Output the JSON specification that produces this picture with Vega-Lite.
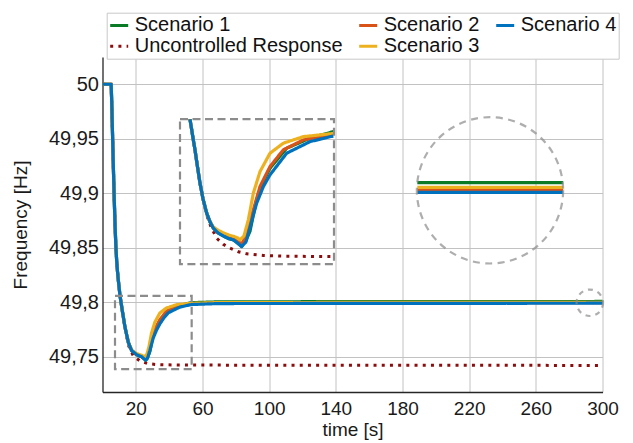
{
  "$schema": "https://vega.github.io/schema/vega-lite/v6.json",
  "width": 500,
  "height": 335,
  "autosize": "none",
  "padding": {"left": 102.5, "top": 57, "right": 30.5, "bottom": 51},
  "background": "white",
  "config": {
    "font": "Liberation Sans",
    "view": {"stroke": null},
    "axis": {
      "domainColor": "#262626", "domainWidth": 1.3,
      "gridColor": "#c2c2c2", "gridWidth": 1,
      "labelFont": "Liberation Sans", "labelFontSize": 19, "labelColor": "#1a1a1a",
      "titleFont": "Liberation Sans", "titleFontSize": 19, "titleFontWeight": "normal", "titleColor": "#1a1a1a",
      "ticks": false, "labelFlush": false, "labelOverlap": false
    },
    "legend": {
      "labelFont": "Liberation Sans", "labelFontSize": 20, "labelColor": "#111111"
    }
  },
  "datasets": {
    "curves": [
      {"s":"Uncontrolled Response","p":"m","t":0,"f":50},
      {"s":"Uncontrolled Response","p":"m","t":5.2,"f":50},
      {"s":"Uncontrolled Response","p":"m","t":5.6,"f":49.98},
      {"s":"Uncontrolled Response","p":"m","t":6,"f":49.955},
      {"s":"Uncontrolled Response","p":"m","t":6.5,"f":49.925},
      {"s":"Uncontrolled Response","p":"m","t":7,"f":49.897},
      {"s":"Uncontrolled Response","p":"m","t":7.5,"f":49.872},
      {"s":"Uncontrolled Response","p":"m","t":8,"f":49.852},
      {"s":"Uncontrolled Response","p":"m","t":8.5,"f":49.838},
      {"s":"Uncontrolled Response","p":"m","t":9,"f":49.828},
      {"s":"Uncontrolled Response","p":"m","t":9.5,"f":49.82},
      {"s":"Uncontrolled Response","p":"m","t":10.5,"f":49.806},
      {"s":"Uncontrolled Response","p":"m","t":12,"f":49.791},
      {"s":"Uncontrolled Response","p":"m","t":13.5,"f":49.777},
      {"s":"Uncontrolled Response","p":"m","t":15.5,"f":49.7605},
      {"s":"Uncontrolled Response","p":"m","t":18.5,"f":49.7506},
      {"s":"Uncontrolled Response","p":"m","t":22.4,"f":49.7461},
      {"s":"Uncontrolled Response","p":"m","t":27.4,"f":49.7435},
      {"s":"Uncontrolled Response","p":"m","t":32.4,"f":49.7427},
      {"s":"Uncontrolled Response","p":"m","t":45,"f":49.7422},
      {"s":"Uncontrolled Response","p":"m","t":300,"f":49.7419},

      {"s":"Uncontrolled Response","p":"i","t":52.5,"f":49.9679},
      {"s":"Uncontrolled Response","p":"i","t":54,"f":49.9535},
      {"s":"Uncontrolled Response","p":"i","t":55.5,"f":49.9397},
      {"s":"Uncontrolled Response","p":"i","t":57,"f":49.9241},
      {"s":"Uncontrolled Response","p":"i","t":58.5,"f":49.9092},
      {"s":"Uncontrolled Response","p":"i","t":60.3,"f":49.8948},
      {"s":"Uncontrolled Response","p":"i","t":62.5,"f":49.88},
      {"s":"Uncontrolled Response","p":"i","t":65,"f":49.8695},
      {"s":"Uncontrolled Response","p":"i","t":68.5,"f":49.8587},
      {"s":"Uncontrolled Response","p":"i","t":72.5,"f":49.853},
      {"s":"Uncontrolled Response","p":"i","t":76.5,"f":49.8495},
      {"s":"Uncontrolled Response","p":"i","t":81.5,"f":49.8462},
      {"s":"Uncontrolled Response","p":"i","t":86.5,"f":49.8443},
      {"s":"Uncontrolled Response","p":"i","t":96.5,"f":49.8428},
      {"s":"Uncontrolled Response","p":"i","t":110,"f":49.8421},
      {"s":"Uncontrolled Response","p":"i","t":138.5,"f":49.8418},

      {"s":"Scenario 1","p":"m","t":0,"f":50},
      {"s":"Scenario 1","p":"m","t":5.2,"f":50},
      {"s":"Scenario 1","p":"m","t":5.6,"f":49.98},
      {"s":"Scenario 1","p":"m","t":6,"f":49.955},
      {"s":"Scenario 1","p":"m","t":6.5,"f":49.925},
      {"s":"Scenario 1","p":"m","t":7,"f":49.897},
      {"s":"Scenario 1","p":"m","t":7.5,"f":49.872},
      {"s":"Scenario 1","p":"m","t":8,"f":49.852},
      {"s":"Scenario 1","p":"m","t":8.5,"f":49.838},
      {"s":"Scenario 1","p":"m","t":9,"f":49.828},
      {"s":"Scenario 1","p":"m","t":9.5,"f":49.82},
      {"s":"Scenario 1","p":"m","t":10.5,"f":49.806},
      {"s":"Scenario 1","p":"m","t":12,"f":49.791},
      {"s":"Scenario 1","p":"m","t":13.5,"f":49.777},
      {"s":"Scenario 1","p":"m","t":15.5,"f":49.763},
      {"s":"Scenario 1","p":"m","t":17.5,"f":49.7555},
      {"s":"Scenario 1","p":"m","t":20.5,"f":49.7517},
      {"s":"Scenario 1","p":"m","t":23.5,"f":49.7498},
      {"s":"Scenario 1","p":"m","t":25.9,"f":49.7467},
      {"s":"Scenario 1","p":"m","t":27,"f":49.749},
      {"s":"Scenario 1","p":"m","t":28.4,"f":49.7545},
      {"s":"Scenario 1","p":"m","t":30.4,"f":49.7699},
      {"s":"Scenario 1","p":"m","t":32.4,"f":49.7775},
      {"s":"Scenario 1","p":"m","t":34.4,"f":49.783},
      {"s":"Scenario 1","p":"m","t":36.9,"f":49.788},
      {"s":"Scenario 1","p":"m","t":39.4,"f":49.7923},
      {"s":"Scenario 1","p":"m","t":46.3,"f":49.797},
      {"s":"Scenario 1","p":"m","t":53.3,"f":49.7995},
      {"s":"Scenario 1","p":"m","t":70,"f":49.8003},
      {"s":"Scenario 1","p":"m","t":300,"f":49.8006},

      {"s":"Scenario 1","p":"i","t":52.5,"f":49.9679},
      {"s":"Scenario 1","p":"i","t":54,"f":49.9535},
      {"s":"Scenario 1","p":"i","t":55.5,"f":49.9397},
      {"s":"Scenario 1","p":"i","t":57,"f":49.9241},
      {"s":"Scenario 1","p":"i","t":58.5,"f":49.9092},
      {"s":"Scenario 1","p":"i","t":60.3,"f":49.8948},
      {"s":"Scenario 1","p":"i","t":62.5,"f":49.8817},
      {"s":"Scenario 1","p":"i","t":64.5,"f":49.8737},
      {"s":"Scenario 1","p":"i","t":66.5,"f":49.8679},
      {"s":"Scenario 1","p":"i","t":69.3,"f":49.8636},
      {"s":"Scenario 1","p":"i","t":72.5,"f":49.8608},
      {"s":"Scenario 1","p":"i","t":75.3,"f":49.8585},
      {"s":"Scenario 1","p":"i","t":78.5,"f":49.8572},
      {"s":"Scenario 1","p":"i","t":81.3,"f":49.8539},
      {"s":"Scenario 1","p":"i","t":83.5,"f":49.851},
      {"s":"Scenario 1","p":"i","t":86.1,"f":49.857},
      {"s":"Scenario 1","p":"i","t":88.5,"f":49.865},
      {"s":"Scenario 1","p":"i","t":90.5,"f":49.88},
      {"s":"Scenario 1","p":"i","t":92.5,"f":49.894},
      {"s":"Scenario 1","p":"i","t":96.5,"f":49.911},
      {"s":"Scenario 1","p":"i","t":100.5,"f":49.9229},
      {"s":"Scenario 1","p":"i","t":110.5,"f":49.9413},
      {"s":"Scenario 1","p":"i","t":124.5,"f":49.9505},
      {"s":"Scenario 1","p":"i","t":138.5,"f":49.9565},
      {"s":"Scenario 1","p":"c","t":188.9,"f":49.9097},
      {"s":"Scenario 1","p":"c","t":276.4,"f":49.9097},

      {"s":"Scenario 2","p":"m","t":0,"f":50},
      {"s":"Scenario 2","p":"m","t":5.2,"f":50},
      {"s":"Scenario 2","p":"m","t":5.6,"f":49.98},
      {"s":"Scenario 2","p":"m","t":6,"f":49.955},
      {"s":"Scenario 2","p":"m","t":6.5,"f":49.925},
      {"s":"Scenario 2","p":"m","t":7,"f":49.897},
      {"s":"Scenario 2","p":"m","t":7.5,"f":49.872},
      {"s":"Scenario 2","p":"m","t":8,"f":49.852},
      {"s":"Scenario 2","p":"m","t":8.5,"f":49.838},
      {"s":"Scenario 2","p":"m","t":9,"f":49.828},
      {"s":"Scenario 2","p":"m","t":9.5,"f":49.82},
      {"s":"Scenario 2","p":"m","t":10.5,"f":49.806},
      {"s":"Scenario 2","p":"m","t":12,"f":49.791},
      {"s":"Scenario 2","p":"m","t":13.5,"f":49.777},
      {"s":"Scenario 2","p":"m","t":15.5,"f":49.763},
      {"s":"Scenario 2","p":"m","t":17.5,"f":49.7555},
      {"s":"Scenario 2","p":"m","t":20.5,"f":49.7519},
      {"s":"Scenario 2","p":"m","t":23.5,"f":49.7502},
      {"s":"Scenario 2","p":"m","t":25.9,"f":49.7478},
      {"s":"Scenario 2","p":"m","t":27.5,"f":49.752},
      {"s":"Scenario 2","p":"m","t":29.4,"f":49.7638},
      {"s":"Scenario 2","p":"m","t":31.4,"f":49.7745},
      {"s":"Scenario 2","p":"m","t":34.4,"f":49.7838},
      {"s":"Scenario 2","p":"m","t":38.3,"f":49.7916},
      {"s":"Scenario 2","p":"m","t":44.3,"f":49.7961},
      {"s":"Scenario 2","p":"m","t":53.3,"f":49.7984},
      {"s":"Scenario 2","p":"m","t":70,"f":49.7992},
      {"s":"Scenario 2","p":"m","t":300,"f":49.7995},

      {"s":"Scenario 2","p":"i","t":52.5,"f":49.9679},
      {"s":"Scenario 2","p":"i","t":54,"f":49.9535},
      {"s":"Scenario 2","p":"i","t":55.5,"f":49.9397},
      {"s":"Scenario 2","p":"i","t":57,"f":49.9241},
      {"s":"Scenario 2","p":"i","t":58.5,"f":49.9092},
      {"s":"Scenario 2","p":"i","t":60.3,"f":49.8948},
      {"s":"Scenario 2","p":"i","t":62.5,"f":49.8817},
      {"s":"Scenario 2","p":"i","t":64.5,"f":49.8737},
      {"s":"Scenario 2","p":"i","t":66.5,"f":49.8682},
      {"s":"Scenario 2","p":"i","t":69.3,"f":49.864},
      {"s":"Scenario 2","p":"i","t":72.5,"f":49.8615},
      {"s":"Scenario 2","p":"i","t":75.3,"f":49.8595},
      {"s":"Scenario 2","p":"i","t":78.5,"f":49.858},
      {"s":"Scenario 2","p":"i","t":81.3,"f":49.8555},
      {"s":"Scenario 2","p":"i","t":83.7,"f":49.8535},
      {"s":"Scenario 2","p":"i","t":86.2,"f":49.862},
      {"s":"Scenario 2","p":"i","t":88.5,"f":49.8735},
      {"s":"Scenario 2","p":"i","t":90.5,"f":49.8847},
      {"s":"Scenario 2","p":"i","t":94.5,"f":49.9061},
      {"s":"Scenario 2","p":"i","t":100.5,"f":49.9244},
      {"s":"Scenario 2","p":"i","t":108.5,"f":49.9398},
      {"s":"Scenario 2","p":"i","t":120.5,"f":49.9489},
      {"s":"Scenario 2","p":"i","t":138.5,"f":49.954},
      {"s":"Scenario 2","p":"c","t":188.9,"f":49.9033},
      {"s":"Scenario 2","p":"c","t":276.4,"f":49.9033},

      {"s":"Scenario 3","p":"m","t":0,"f":50},
      {"s":"Scenario 3","p":"m","t":5.2,"f":50},
      {"s":"Scenario 3","p":"m","t":5.6,"f":49.98},
      {"s":"Scenario 3","p":"m","t":6,"f":49.955},
      {"s":"Scenario 3","p":"m","t":6.5,"f":49.925},
      {"s":"Scenario 3","p":"m","t":7,"f":49.897},
      {"s":"Scenario 3","p":"m","t":7.5,"f":49.872},
      {"s":"Scenario 3","p":"m","t":8,"f":49.852},
      {"s":"Scenario 3","p":"m","t":8.5,"f":49.838},
      {"s":"Scenario 3","p":"m","t":9,"f":49.828},
      {"s":"Scenario 3","p":"m","t":9.5,"f":49.82},
      {"s":"Scenario 3","p":"m","t":10.5,"f":49.806},
      {"s":"Scenario 3","p":"m","t":12,"f":49.791},
      {"s":"Scenario 3","p":"m","t":13.5,"f":49.777},
      {"s":"Scenario 3","p":"m","t":15.5,"f":49.763},
      {"s":"Scenario 3","p":"m","t":17.5,"f":49.7558},
      {"s":"Scenario 3","p":"m","t":20.5,"f":49.7527},
      {"s":"Scenario 3","p":"m","t":23.5,"f":49.7512},
      {"s":"Scenario 3","p":"m","t":25.5,"f":49.7498},
      {"s":"Scenario 3","p":"m","t":26.7,"f":49.7525},
      {"s":"Scenario 3","p":"m","t":27.9,"f":49.7591},
      {"s":"Scenario 3","p":"m","t":29.4,"f":49.7715},
      {"s":"Scenario 3","p":"m","t":31.4,"f":49.7815},
      {"s":"Scenario 3","p":"m","t":34.4,"f":49.79},
      {"s":"Scenario 3","p":"m","t":38.3,"f":49.7946},
      {"s":"Scenario 3","p":"m","t":44.3,"f":49.7976},
      {"s":"Scenario 3","p":"m","t":53.3,"f":49.7989},
      {"s":"Scenario 3","p":"m","t":70,"f":49.7996},
      {"s":"Scenario 3","p":"m","t":300,"f":49.7999},

      {"s":"Scenario 3","p":"i","t":52.5,"f":49.9679},
      {"s":"Scenario 3","p":"i","t":54,"f":49.9535},
      {"s":"Scenario 3","p":"i","t":55.5,"f":49.9397},
      {"s":"Scenario 3","p":"i","t":57,"f":49.9241},
      {"s":"Scenario 3","p":"i","t":58.5,"f":49.9092},
      {"s":"Scenario 3","p":"i","t":60.3,"f":49.8948},
      {"s":"Scenario 3","p":"i","t":62.5,"f":49.8817},
      {"s":"Scenario 3","p":"i","t":64.5,"f":49.8737},
      {"s":"Scenario 3","p":"i","t":66.5,"f":49.869},
      {"s":"Scenario 3","p":"i","t":69.3,"f":49.866},
      {"s":"Scenario 3","p":"i","t":72.5,"f":49.8636},
      {"s":"Scenario 3","p":"i","t":75.3,"f":49.8618},
      {"s":"Scenario 3","p":"i","t":78.5,"f":49.8604},
      {"s":"Scenario 3","p":"i","t":81,"f":49.859},
      {"s":"Scenario 3","p":"i","t":82.5,"f":49.8572},
      {"s":"Scenario 3","p":"i","t":84.9,"f":49.8608},
      {"s":"Scenario 3","p":"i","t":87.5,"f":49.8755},
      {"s":"Scenario 3","p":"i","t":90.5,"f":49.9},
      {"s":"Scenario 3","p":"i","t":94.5,"f":49.9198},
      {"s":"Scenario 3","p":"i","t":100.5,"f":49.9367},
      {"s":"Scenario 3","p":"i","t":108.5,"f":49.9459},
      {"s":"Scenario 3","p":"i","t":120.5,"f":49.9519},
      {"s":"Scenario 3","p":"i","t":138.5,"f":49.9548},
      {"s":"Scenario 3","p":"c","t":188.9,"f":49.9053},
      {"s":"Scenario 3","p":"c","t":276.4,"f":49.9053},

      {"s":"Scenario 4","p":"m","t":0,"f":50},
      {"s":"Scenario 4","p":"m","t":5.2,"f":50},
      {"s":"Scenario 4","p":"m","t":5.6,"f":49.98},
      {"s":"Scenario 4","p":"m","t":6,"f":49.955},
      {"s":"Scenario 4","p":"m","t":6.5,"f":49.925},
      {"s":"Scenario 4","p":"m","t":7,"f":49.897},
      {"s":"Scenario 4","p":"m","t":7.5,"f":49.872},
      {"s":"Scenario 4","p":"m","t":8,"f":49.852},
      {"s":"Scenario 4","p":"m","t":8.5,"f":49.838},
      {"s":"Scenario 4","p":"m","t":9,"f":49.828},
      {"s":"Scenario 4","p":"m","t":9.5,"f":49.82},
      {"s":"Scenario 4","p":"m","t":10.5,"f":49.806},
      {"s":"Scenario 4","p":"m","t":12,"f":49.791},
      {"s":"Scenario 4","p":"m","t":13.5,"f":49.777},
      {"s":"Scenario 4","p":"m","t":15.5,"f":49.763},
      {"s":"Scenario 4","p":"m","t":17.5,"f":49.7555},
      {"s":"Scenario 4","p":"m","t":20.5,"f":49.7517},
      {"s":"Scenario 4","p":"m","t":23.5,"f":49.7498},
      {"s":"Scenario 4","p":"m","t":25.9,"f":49.7467},
      {"s":"Scenario 4","p":"m","t":27,"f":49.7485},
      {"s":"Scenario 4","p":"m","t":28.4,"f":49.7555},
      {"s":"Scenario 4","p":"m","t":30.4,"f":49.7669},
      {"s":"Scenario 4","p":"m","t":32.4,"f":49.7742},
      {"s":"Scenario 4","p":"m","t":34.4,"f":49.78},
      {"s":"Scenario 4","p":"m","t":36.9,"f":49.7857},
      {"s":"Scenario 4","p":"m","t":39.4,"f":49.7901},
      {"s":"Scenario 4","p":"m","t":46.3,"f":49.7954},
      {"s":"Scenario 4","p":"m","t":53.3,"f":49.7978},
      {"s":"Scenario 4","p":"m","t":70,"f":49.7987},
      {"s":"Scenario 4","p":"m","t":300,"f":49.799},

      {"s":"Scenario 4","p":"i","t":52.5,"f":49.9679},
      {"s":"Scenario 4","p":"i","t":54,"f":49.9535},
      {"s":"Scenario 4","p":"i","t":55.5,"f":49.9397},
      {"s":"Scenario 4","p":"i","t":57,"f":49.9241},
      {"s":"Scenario 4","p":"i","t":58.5,"f":49.9092},
      {"s":"Scenario 4","p":"i","t":60.3,"f":49.8948},
      {"s":"Scenario 4","p":"i","t":62.5,"f":49.8817},
      {"s":"Scenario 4","p":"i","t":64.5,"f":49.8737},
      {"s":"Scenario 4","p":"i","t":66.5,"f":49.8679},
      {"s":"Scenario 4","p":"i","t":69.3,"f":49.8636},
      {"s":"Scenario 4","p":"i","t":72.5,"f":49.8608},
      {"s":"Scenario 4","p":"i","t":75.3,"f":49.8585},
      {"s":"Scenario 4","p":"i","t":78.5,"f":49.8572},
      {"s":"Scenario 4","p":"i","t":81.3,"f":49.8539},
      {"s":"Scenario 4","p":"i","t":83.5,"f":49.851},
      {"s":"Scenario 4","p":"i","t":86.1,"f":49.8553},
      {"s":"Scenario 4","p":"i","t":88.5,"f":49.8682},
      {"s":"Scenario 4","p":"i","t":90.5,"f":49.88},
      {"s":"Scenario 4","p":"i","t":92.5,"f":49.8908},
      {"s":"Scenario 4","p":"i","t":96.5,"f":49.906},
      {"s":"Scenario 4","p":"i","t":100.5,"f":49.9168},
      {"s":"Scenario 4","p":"i","t":110.5,"f":49.9367},
      {"s":"Scenario 4","p":"i","t":124.5,"f":49.9473},
      {"s":"Scenario 4","p":"i","t":138.5,"f":49.9525},
      {"s":"Scenario 4","p":"c","t":188.9,"f":49.9008},
      {"s":"Scenario 4","p":"c","t":276.4,"f":49.9008}
    ],
    "boxes": [
      {"t":7.5,"t2":53.5,"f":49.7385,"f2":49.8058},
      {"t":46.5,"t2":138.9,"f":49.8349,"f2":49.9679}
    ],
    "circles": [
      {"z":"big","t":232.5,"f":49.9026},
      {"z":"small","t":292.4,"f":49.7994}
    ]
  },
  "layer": [
    {
      "data": {"name": "curves"},
      "encoding": {
        "x": {"field": "t", "type": "quantitative", "title": "time [s]",
          "scale": {"domain": [0, 300], "nice": false, "zero": false},
          "axis": {"values": [20,40,60,80,100,120,140,160,180,200,220,240,260,280,300],
            "labelExpr": "datum.value % 40 == 20 ? datum.label : ''",
            "grid": true, "labelPadding": 7, "titlePadding": 2}},
        "y": {"field": "f", "type": "quantitative", "title": "Frequency [Hz]",
          "scale": {"domain": [49.7175, 50.025], "nice": false, "zero": false},
          "axis": {"values": [49.75,49.8,49.85,49.9,49.95,50],
            "labelExpr": "replace(format(datum.value, '.2~f'), '.', ',')",
            "grid": true, "labelPadding": 4, "labelFontSize": 20, "titlePadding": 18}},
        "color": {"field": "s", "type": "nominal", "title": null,
          "scale": {"domain": ["Scenario 1","Uncontrolled Response","Scenario 2","Scenario 3","Scenario 4"],
            "range": ["#0a7a27","#8b0d0d","#D95319","#EDB120","#0072BD"]},
          "legend": {"orient": "none", "legendX": 4.2, "legendY": -44.3, "columns": 3,
            "symbolType": "stroke", "symbolSize": 324, "symbolStrokeWidth": 3,
            "labelOffset": 5, "columnPadding": 10, "rowPadding": 0, "padding": 2,
            "strokeColor": "#c8c8c8", "fillColor": "white", "labelLimit": 400}},
        "strokeDash": {"field": "s", "type": "nominal", "title": null,
          "scale": {"domain": ["Scenario 1","Uncontrolled Response","Scenario 2","Scenario 3","Scenario 4"],
            "range": [[1,0],[3,5.2],[1,0],[1,0],[1,0]]}},
        "detail": {"field": "p", "type": "nominal"}
      },
      "layer": [
        {"transform": [{"filter": "datum.s == 'Uncontrolled Response'"}],
          "mark": {"type": "line", "strokeWidth": 3, "strokeCap": "butt"}},
        {"transform": [{"filter": "datum.s == 'Scenario 1'"}],
          "mark": {"type": "line", "strokeWidth": 3.2, "strokeJoin": "round"}},
        {"transform": [{"filter": "datum.s == 'Scenario 2'"}],
          "mark": {"type": "line", "strokeWidth": 3.2, "strokeJoin": "round"}},
        {"transform": [{"filter": "datum.s == 'Scenario 3'"}],
          "mark": {"type": "line", "strokeWidth": 3.2, "strokeJoin": "round"}},
        {"transform": [{"filter": "datum.s == 'Scenario 4'"}],
          "mark": {"type": "line", "strokeWidth": 3.2, "strokeJoin": "round"}}
      ]
    },
    {
      "data": {"name": "boxes"},
      "mark": {"type": "rect", "fill": "transparent", "stroke": "#8c8c8c", "strokeWidth": 2.2, "strokeDash": [8, 4.5]},
      "encoding": {
        "x": {"field": "t", "type": "quantitative", "title": "time [s]", "scale": {"domain": [0, 300], "nice": false, "zero": false}},
        "x2": {"field": "t2"},
        "y": {"field": "f", "type": "quantitative", "title": "Frequency [Hz]", "scale": {"domain": [49.7175, 50.025], "nice": false, "zero": false}},
        "y2": {"field": "f2"}
      }
    },
    {
      "data": {"name": "circles"},
      "transform": [{"filter": "datum.z == 'big'"}],
      "mark": {"type": "point", "shape": "circle", "size": 21400, "filled": false, "stroke": "#8c8c8c", "strokeWidth": 2.2, "strokeDash": [7, 5.5]},
      "encoding": {
        "x": {"field": "t", "type": "quantitative", "title": "time [s]", "scale": {"domain": [0, 300], "nice": false, "zero": false}},
        "y": {"field": "f", "type": "quantitative", "title": "Frequency [Hz]", "scale": {"domain": [49.7175, 50.025], "nice": false, "zero": false}}
      }
    },
    {
      "data": {"name": "circles"},
      "transform": [{"filter": "datum.z == 'small'"}],
      "mark": {"type": "point", "shape": "circle", "size": 700, "filled": false, "stroke": "#8c8c8c", "strokeWidth": 2.2, "strokeDash": [5, 5]},
      "encoding": {
        "x": {"field": "t", "type": "quantitative", "title": "time [s]", "scale": {"domain": [0, 300], "nice": false, "zero": false}},
        "y": {"field": "f", "type": "quantitative", "title": "Frequency [Hz]", "scale": {"domain": [49.7175, 50.025], "nice": false, "zero": false}}
      }
    }
  ]
}
